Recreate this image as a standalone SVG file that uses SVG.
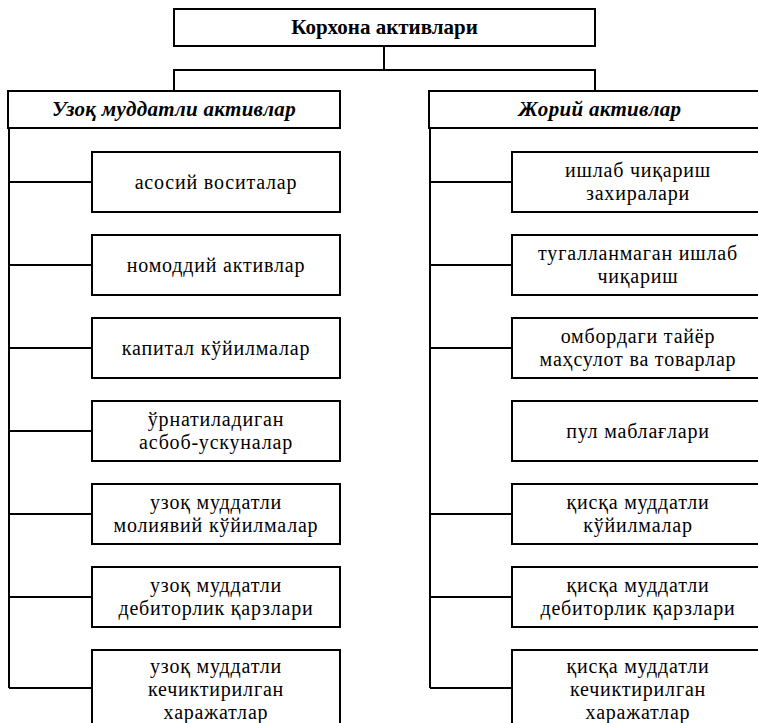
<svg xmlns="http://www.w3.org/2000/svg" width="758" height="723" viewBox="0 0 758 723">
<style>
.box{fill:#fff;stroke:#000;stroke-width:2}
.ln{fill:none;stroke:#000;stroke-width:2}
text{font-family:"Liberation Serif","Times New Roman",serif;font-size:20px;letter-spacing:0.8px;fill:#000;text-anchor:middle}
.t{font-weight:bold;font-size:21px;letter-spacing:0}
.h{font-weight:bold;font-style:italic;font-size:21px;letter-spacing:0.3px}
</style>
<rect width="758" height="723" fill="#fff"/>
<g id="connectors">
<path class="ln" d="M384,46V70M174,91V70H595V91"/>
<path class="ln" d="M9,128V688M9,182H92M9,265H92M9,348H92M9,431H92M9,514H92M9,597H92M9,688H92"/>
<path class="ln" d="M430,128V688M430,182H512M430,265H512M430,348H512M430,514H512M430,597H512M430,688H512"/>
</g>
<g id="root"><rect class="box" x="174" y="9" width="421" height="37"/><text class="t" x="384.5" y="34">Корхона активлари</text></g>
<g id="long-term"><rect class="box" x="8" y="91" width="332" height="37"/><text class="h" x="174" y="116">Узоқ муддатли активлар</text></g>
<g id="current"><rect class="box" x="429" y="91" width="340" height="37"/><text class="h" x="600" y="116">Жорий активлар</text></g>
<g id="l1"><rect class="box" x="92" y="152" width="248" height="60"/><text x="216" y="189">асосий воситалар</text></g>
<g id="l2"><rect class="box" x="92" y="235" width="248" height="60"/><text x="216" y="272">номоддий активлар</text></g>
<g id="l3"><rect class="box" x="92" y="318" width="248" height="60"/><text x="216" y="355">капитал кўйилмалар</text></g>
<g id="l4"><rect class="box" x="92" y="401" width="248" height="60"/><text x="216" y="426">ўрнатиладиган</text><text x="216" y="449">асбоб-ускуналар</text></g>
<g id="l5"><rect class="box" x="92" y="484" width="248" height="60"/><text x="216" y="509">узоқ муддатли</text><text x="216" y="532">молиявий кўйилмалар</text></g>
<g id="l6"><rect class="box" x="92" y="567" width="248" height="60"/><text x="216" y="592">узоқ муддатли</text><text x="216" y="615">дебиторлик қарзлари</text></g>
<g id="l7"><rect class="box" x="92" y="650" width="248" height="85"/><text x="216" y="673">узоқ муддатли</text><text x="216" y="696">кечиктирилган</text><text x="216" y="719">харажатлар</text></g>
<g id="r1"><rect class="box" x="512" y="152" width="256" height="60"/><text x="638" y="177">ишлаб чиқариш</text><text x="638" y="200">захиралари</text></g>
<g id="r2"><rect class="box" x="512" y="235" width="256" height="60"/><text x="638" y="260">тугалланмаган ишлаб</text><text x="638" y="283">чиқариш</text></g>
<g id="r3"><rect class="box" x="512" y="318" width="256" height="60"/><text x="638" y="343">омбордаги тайёр</text><text x="638" y="366">маҳсулот ва товарлар</text></g>
<g id="r4"><rect class="box" x="512" y="401" width="256" height="60"/><text x="638" y="438">пул маблағлари</text></g>
<g id="r5"><rect class="box" x="512" y="484" width="256" height="60"/><text x="638" y="509">қисқа муддатли</text><text x="638" y="532">кўйилмалар</text></g>
<g id="r6"><rect class="box" x="512" y="567" width="256" height="60"/><text x="638" y="592">қисқа муддатли</text><text x="638" y="615">дебиторлик қарзлари</text></g>
<g id="r7"><rect class="box" x="512" y="650" width="256" height="85"/><text x="638" y="673">қисқа муддатли</text><text x="638" y="696">кечиктирилган</text><text x="638" y="719">харажатлар</text></g>
</svg>
